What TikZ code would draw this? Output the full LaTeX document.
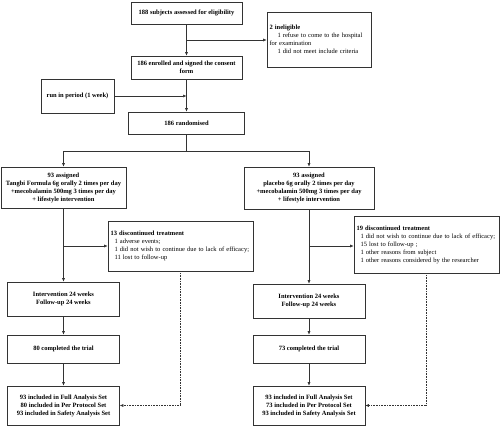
\documentclass[tikz,border=0pt]{standalone}
\usepackage{fontspec}
\setmainfont{Liberation Serif}
\usetikzlibrary{arrows.meta}
\begin{document}
\begin{tikzpicture}[x=1pt,y=-1pt,
 box/.style={draw=black!80, line width=0.6pt, fill=white, inner sep=0pt, font=\fontsize{6.5}{8}\selectfont\bfseries, align=center},
 note/.style={draw=black!80, line width=0.6pt, fill=white, inner xsep=2.5pt, inner ysep=0pt, font=\fontsize{6.5}{8}\selectfont, align=left},
 arr/.style={-{Latex[length=3.5pt,width=3pt]}, line width=0.6pt, draw=black!80},
 ln/.style={line width=0.6pt, draw=black!80},
 dotarr/.style={-{Latex[length=3.5pt,width=3pt]}, line width=0.6pt, densely dotted, draw=black!80}]
\useasboundingbox (0,0) rectangle (500,426);

% top column
\node[box, minimum width=111pt, minimum height=22pt] (b1) at (186.5,13) {188 subjects assessed for eligibility};
\node[note, text width=99pt, minimum height=55pt] (inel) at (319,39.5)
 {\textbf{2 ineligible}\\\hspace*{8pt}1 refuse to come to the hospital\\for examination\\\hspace*{8pt}1 did not meet include criteria};
\node[box, minimum width=111pt, minimum height=23pt] (b2) at (186.5,67.5) {186 enrolled and signed the consent\\form};
\node[box, minimum width=73pt, minimum height=34pt] (run) at (77.5,96) {run in period (1 week)};
\node[box, minimum width=116pt, minimum height=22pt] (rand) at (186.5,123) {186 randomised};

% assigned
\node[box, minimum width=125pt, minimum height=41pt] (la) at (63.5,187.5) {93 assigned\\Tangbi Formula 6g orally 2 times per day\\+mecobalamin 500mg 3 times per day\\+ lifestyle intervention};
\node[box, minimum width=130pt, minimum height=42pt] (ra) at (309,188) {93 assigned\\placebo 6g orally 2 times per day\\+mecobalamin 500mg 3 times per day\\+ lifestyle intervention};

% discontinued
\node[note, text width=140pt, minimum height=50pt] (ld) at (180.5,246)
 {\textbf{13 discontinued treatment}\\\hspace*{4pt}1 adverse events;\\\hspace*{4pt}1 did not wish to continue due to lack of efficacy;\\\hspace*{4pt}11 lost to follow-up};
\node[note, text width=140pt, minimum height=57pt] (rd) at (426.5,244.5)
 {\textbf{19 discontinued treatment}\\\hspace*{4pt}1 did not wish to continue due to lack of efficacy;\\\hspace*{4pt}15 lost to follow-up ;\\\hspace*{4pt}1 other reasons from subject\\\hspace*{4pt}1 other reasons considered by the researcher};

% intervention
\node[box, minimum width=112pt, minimum height=34pt] (li) at (63.5,299) {Intervention 24 weeks\\Follow-up 24 weeks};
\node[box, minimum width=112pt, minimum height=34pt] (ri) at (309,301) {Intervention 24 weeks\\Follow-up 24 weeks};

% completed
\node[box, minimum width=112pt, minimum height=28pt] (lc) at (63.5,349) {80 completed the trial};
\node[box, minimum width=112pt, minimum height=28pt] (rc) at (309,349) {73 completed the trial};

% final sets
\node[box, minimum width=112pt, minimum height=39pt] (lf) at (63.5,405.5) {93 included in Full Analysis Set\\80 included in Per Protocol Set\\93 included in Safety Analysis Set};
\node[box, minimum width=112pt, minimum height=39pt] (rf) at (309,405.5) {93 included in Full Analysis Set\\73 included in Per Protocol Set\\93 included in Safety Analysis Set};

% connectors
\coordinate (j1) at (186.5,40);
\draw[arr] (b1.south) -- (b2.north);
\draw[arr] (j1) -- (j1 -| inel.west);
\draw[arr] (b2.south) -- (rand.north);
\draw[arr] (run.east) -- (run.east -| b2.south);

\coordinate (br) at (186.5,151);
\draw[ln] (rand.south) -- (br);
\draw[arr] (br) -| (la.north);
\draw[arr] (br) -| (ra.north);

\coordinate (jl) at (63.5,246);
\coordinate (jr) at (309,246);
\draw[arr] (la.south) -- (li.north);
\draw[arr] (jl) -- (jl -| ld.west);
\draw[arr] (ra.south) -- (ri.north);
\draw[arr] (jr) -- (jr -| rd.west);

\draw[arr] (li.south) -- (lc.north);
\draw[arr] (lc.south) -- (lf.north);
\draw[arr] (ri.south) -- (rc.north);
\draw[arr] (rc.south) -- (rf.north);

\draw[dotarr] (ld.south) -- (ld.south |- lf.east) -- (lf.east);
\draw[dotarr] (rd.south) -- (rd.south |- rf.east) -- (rf.east);
\end{tikzpicture}
\end{document}
